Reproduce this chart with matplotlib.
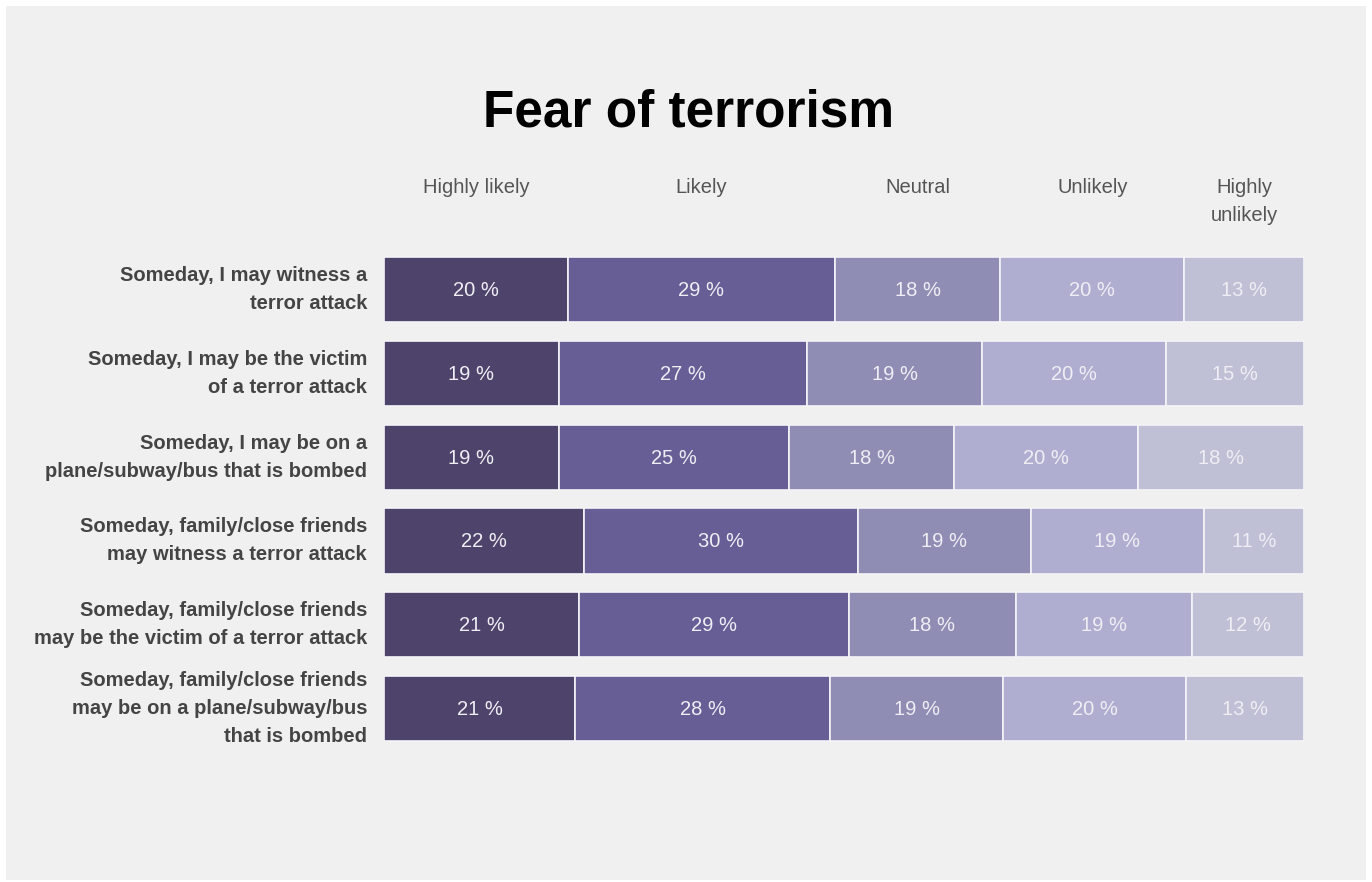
import numpy as np
import matplotlib.pyplot as plt
from matplotlib.patches import Rectangle

plt.rcParams['font.family'] = ['Liberation Sans', 'DejaVu Sans']

# survey answers, one row per statement (percent)
statements = [
    "Someday, I may witness a\nterror attack",
    "Someday, I may be the victim\nof a terror attack",
    "Someday, I may be on a\nplane/subway/bus that is bombed",
    "Someday, family/close friends\nmay witness a terror attack",
    "Someday, family/close friends\nmay be the victim of a terror attack",
    "Someday, family/close friends\nmay be on a plane/subway/bus\nthat is bombed",
]
answers = ["Highly likely", "Likely", "Neutral", "Unlikely", "Highly\nunlikely"]
highly_likely = [20, 19, 19, 22, 21, 21]
likely = [29, 27, 25, 30, 29, 28]
neutral = [18, 19, 18, 19, 18, 19]
unlikely = [20, 20, 20, 19, 19, 20]
highly_unlikely = [13, 15, 18, 11, 12, 13]

colors = ["#4e446b", "#675e96", "#8f8db4", "#b0aed0", "#bfbfd5"]

data = np.array([highly_likely, likely, neutral, unlikely, highly_unlikely], dtype=float)
# bars fill the full width, so scale each row to 100
shares = data / data.sum(axis=0) * 100

fig = plt.figure(figsize=(13.72, 8.82), dpi=100, facecolor="white")
fig.patches.append(Rectangle((6 / 1372, 2 / 882), 1360 / 1372, 874 / 882,
                             transform=fig.transFigure, facecolor="#f0f0f0",
                             edgecolor="none", zorder=-5))

ax = fig.add_axes([0.2799, 0.1494, 0.6705, 0.5696])
ax.set_facecolor("none")
ax.set_zorder(2)

y = np.arange(len(statements))
left = np.zeros(len(statements))
for i in range(len(answers)):
    ax.barh(y, shares[i], left=left, height=0.78, color=colors[i],
            edgecolor="#f4f4f8", linewidth=1.2)
    for j in range(len(statements)):
        ax.text(left[j] + shares[i][j] / 2, y[j] + 0.01, f"{data[i][j]:.0f} %",
                ha="center", va="center", fontsize=14.5, color="#eeeef4")
    # column headings sit over the first row's segments
    ax.text(left[0] + shares[i][0] / 2, -1.33, answers[i], ha="center",
            va="top", fontsize=14.5, color="#555555", linespacing=1.6)
    left += shares[i]

for j, s in enumerate(statements):
    ax.text(-1.85, y[j], s, ha="right", va="center", fontsize=14.5,
            fontweight="bold", color="#444444", linespacing=1.6)

ax.set_xlim(0, 100)
ax.set_ylim(5.5, -0.5)
ax.axis("off")

fig.text(0.5015, 0.872, "Fear of terrorism", ha="center", va="center",
         fontsize=37, fontweight="bold", color="black")

fig.savefig("out.png", dpi=100, facecolor=fig.get_facecolor())
